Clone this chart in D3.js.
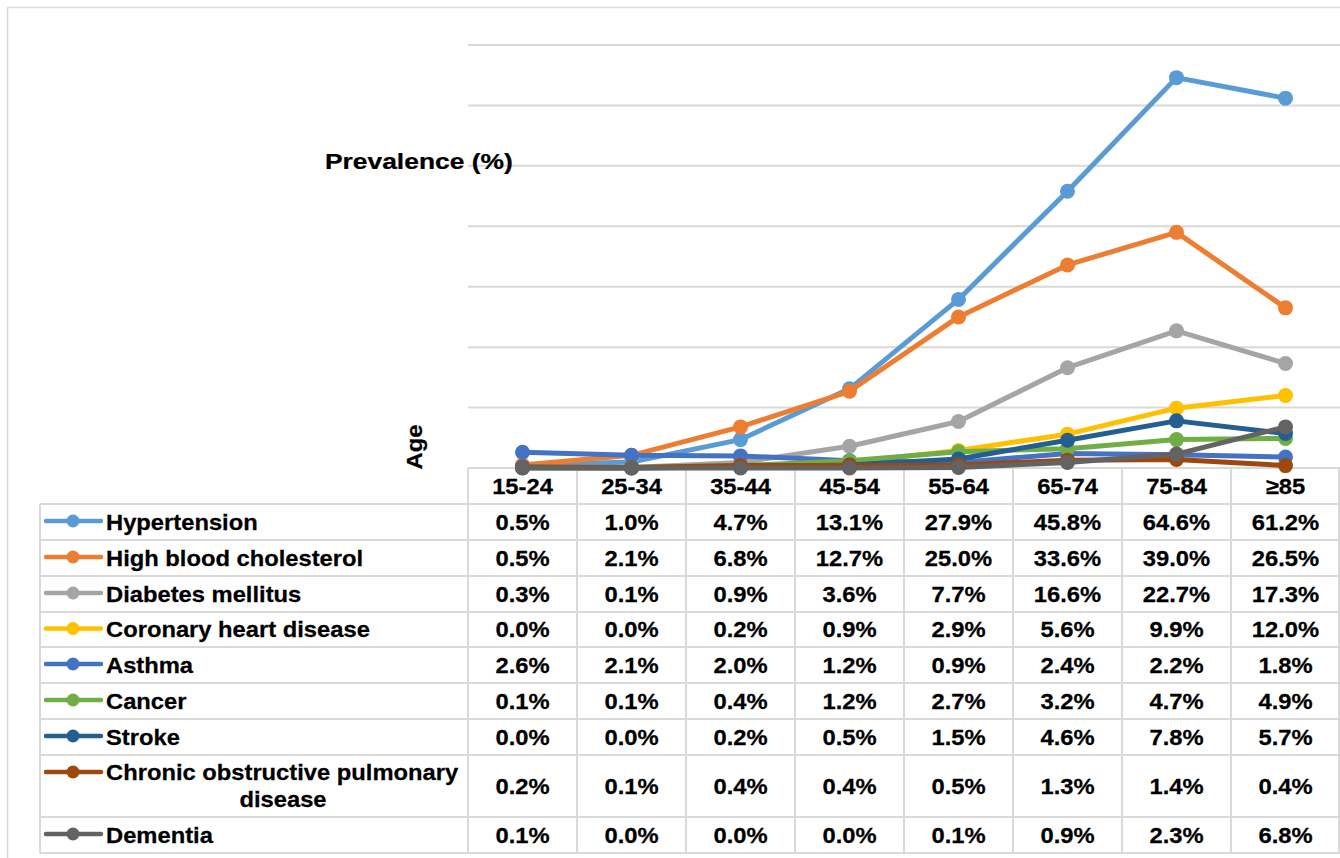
<!DOCTYPE html>
<html><head><meta charset="utf-8">
<script src="https://cdn.jsdelivr.net/npm/d3@7"></script>
<style>body{margin:0;background:#fff}svg{display:block}</style>
</head><body><svg id="c" width="1340" height="858"></svg>
<script>
const ages = ["15-24","25-34","35-44","45-54","55-64","65-74","75-84","≥85"];
const seriesNames = ["Hypertension","High blood cholesterol","Diabetes mellitus","Coronary heart disease","Asthma","Cancer","Stroke","Chronic obstructive pulmonary disease","Dementia"];
const hypertension = [0.5,1.0,4.7,13.1,27.9,45.8,64.6,61.2];
const cholesterol  = [0.5,2.1,6.8,12.7,25.0,33.6,39.0,26.5];
const diabetes     = [0.3,0.1,0.9,3.6,7.7,16.6,22.7,17.3];
const chd          = [0.0,0.0,0.2,0.9,2.9,5.6,9.9,12.0];
const asthma       = [2.6,2.1,2.0,1.2,0.9,2.4,2.2,1.8];
const cancer       = [0.1,0.1,0.4,1.2,2.7,3.2,4.7,4.9];
const stroke       = [0.0,0.0,0.2,0.5,1.5,4.6,7.8,5.7];
const copd         = [0.2,0.1,0.4,0.4,0.5,1.3,1.4,0.4];
const dementia     = [0.1,0.0,0.0,0.0,0.1,0.9,2.3,6.8];
const colors = ["#5B9BD5","#ED7D31","#A5A5A5","#FFC000","#4472C4","#70AD47","#255E91","#9E480E","#636363"];
const yTicks = [0,10,20,30,40,50,60,70];

const seriesValues = [hypertension,cholesterol,diabetes,chd,asthma,cancer,stroke,copd,dementia];
const series = seriesNames.map((n,i)=>({name:n, values:seriesValues[i], color:colors[i]}));

const svg = d3.select("#c");
const grid = "#d9d9d9";
const FONT = "'Liberation Sans', Arial, sans-serif";
const SX = 1.08;

const x = d3.scaleBand().domain(ages).range([468,1340]);
const y = d3.scaleLinear().domain([0,70]).range([468,45]);

// outer chart border
svg.append("rect").attr("x",7.5).attr("y",7.5).attr("width",1345).attr("height",860)
  .attr("fill","none").attr("stroke",grid).attr("stroke-width",1.5);

// gridlines
svg.append("g").selectAll("line").data(yTicks.slice(1)).join("line")
  .attr("x1",468).attr("x2",1340).attr("y1",d=>y(d)).attr("y2",d=>y(d))
  .attr("stroke",grid).attr("stroke-width",2);

function txt(parent, tx, ty, s, anchor, size, rot, sx){
  const g = parent.append("g").attr("transform",`translate(${tx},${ty})${rot?` rotate(${rot})`:""} scale(${sx||SX},1)`);
  g.append("text").attr("text-anchor",anchor||"start").attr("font-family",FONT)
    .attr("font-weight","bold").attr("font-size",size||22).attr("fill","#000")
    .attr("stroke","#000").attr("stroke-width",0.25).text(s);
  return g;
}

// axis titles
txt(svg, 325, 169, "Prevalence (%)", "start", 22, 0, 1.2);
txt(svg, 422, 447, "Age", "middle", 22, -90);

// table geometry
const rowTops = [504,540,576,612,647,683,719,755,817];
const rowBottoms = [540,576,612,647,683,719,755,817,853];
const tg = svg.append("g");
tg.append("line").attr("x1",468).attr("x2",1340).attr("y1",468).attr("y2",468).attr("stroke",grid).attr("stroke-width",2);
rowTops.concat([853]).forEach(yy=>{
  tg.append("line").attr("x1",40).attr("x2",1340).attr("y1",yy).attr("y2",yy).attr("stroke",grid).attr("stroke-width",2);
});
tg.append("line").attr("x1",40).attr("x2",40).attr("y1",504).attr("y2",853).attr("stroke",grid).attr("stroke-width",2);
ages.forEach(a=>{
  tg.append("line").attr("x1",x(a)).attr("x2",x(a)).attr("y1",468).attr("y2",853).attr("stroke",grid).attr("stroke-width",2);
});
tg.append("line").attr("x1",1339).attr("x2",1339).attr("y1",468).attr("y2",853).attr("stroke",grid).attr("stroke-width",2);

// header labels
ages.forEach(a=>txt(svg, x(a)+x.bandwidth()/2, 494, a, "middle"));

// rows
series.forEach((s,i)=>{
  const cy = (rowTops[i]+rowBottoms[i])/2;
  const multi = s.name.length>30;
  const ky = multi ? 772 : cy-1;
  svg.append("line").attr("x1",46).attr("x2",101).attr("y1",ky).attr("y2",ky)
    .attr("stroke",s.color).attr("stroke-width",4.5).attr("stroke-linecap","round");
  svg.append("circle").attr("cx",73).attr("cy",ky).attr("r",6.5).attr("fill",s.color);
  if(multi){
    txt(svg,106,780,"Chronic obstructive pulmonary","start");
    txt(svg,283,807,"disease","middle");
  } else {
    txt(svg,106,cy+7.5,s.name,"start");
  }
  s.values.forEach((v,j)=>{
    txt(svg, x(ages[j])+x.bandwidth()/2, cy+7.5, v.toFixed(1)+"%", "middle");
  });
});

// lines
const line = d3.line().x((d,i)=>x(ages[i])+x.bandwidth()/2).y(d=>y(d));
const lg = svg.append("g");
series.forEach(s=>{
  const g = lg.append("g");
  g.append("path").attr("d",line(s.values)).attr("fill","none").attr("stroke",s.color)
    .attr("stroke-width",5).attr("stroke-linejoin","round").attr("stroke-linecap","round");
  g.selectAll("circle").data(s.values).join("circle")
    .attr("cx",(d,i)=>x(ages[i])+x.bandwidth()/2).attr("cy",d=>y(d)).attr("r",7.5).attr("fill",s.color);
});
</script></body></html>
